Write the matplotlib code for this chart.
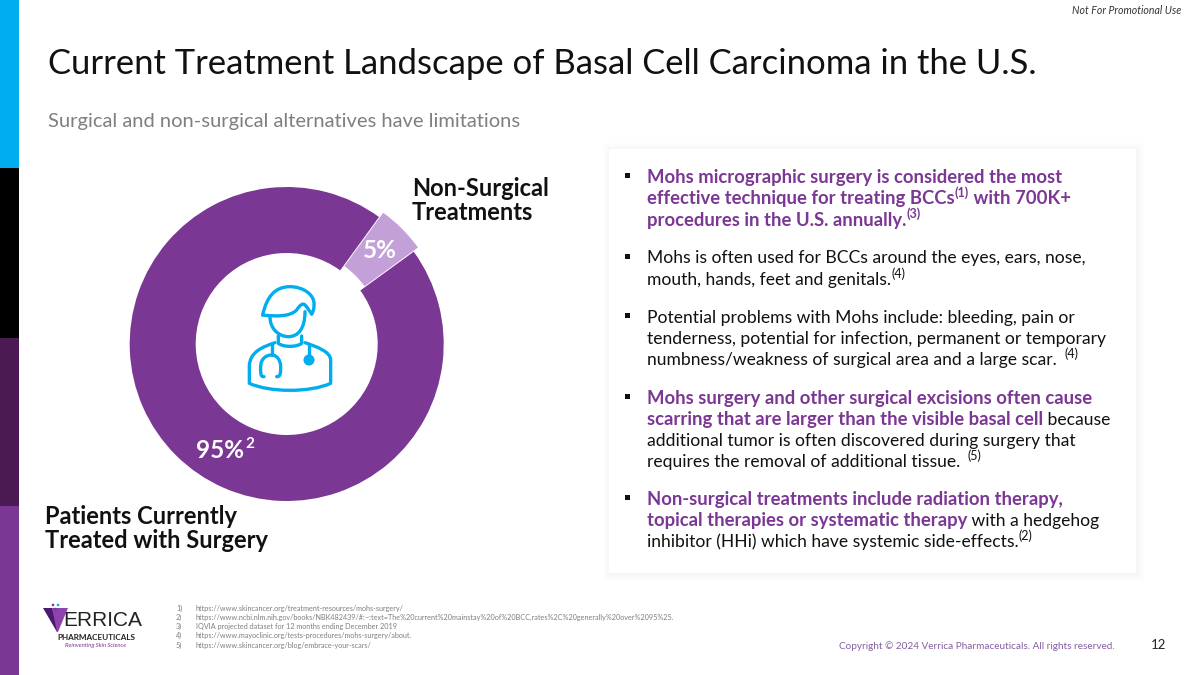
import matplotlib
matplotlib.use("Agg")
import matplotlib.pyplot as plt
from matplotlib.patches import Rectangle, Polygon, Circle, PathPatch
from matplotlib.path import Path

plt.rcParams['font.family'] = ['Lato', 'DejaVu Sans']

PURPLE = "#7B3794"
LILAC = "#C3A0D8"
CYAN = "#00AEEF"
INK = "#111111"
GREY = "#7F7F7F"

# donut values
shares = [5, 95]
share_colors = [LILAC, PURPLE]
share_explode = [6, 0]

title = "Current Treatment Landscape of Basal Cell Carcinoma in the U.S."
subtitle = "Surgical and non-surgical alternatives have limitations"

footnotes = [
    "https://www.skincancer.org/treatment-resources/mohs-surgery/",
    "https://www.ncbi.nlm.nih.gov/books/NBK482439/#:~:text=The%20current%20mainstay%20of%20BCC,rates%2C%20generally%20over%2095%25.",
    "IQVIA projected dataset for 12 months ending December 2019",
    "https://www.mayoclinic.org/tests-procedures/mohs-surgery/about.",
    "https://www.skincancer.org/blog/embrace-your-scars/",
]

# runs: (text, bold, superscript)
bullets = [
    (176, [[("Mohs micrographic surgery is considered the most", 1, 0)],
           [("effective technique for treating BCCs", 1, 0), ("(1)", 1, 1), (" with 700K+", 1, 0)],
           [("procedures in the U.S. annually.", 1, 0), ("(3)", 1, 1)]]),
    (257, [[("Mohs is often used for BCCs around the eyes, ears, nose,", 0, 0)],
           [("mouth, hands, feet and genitals.", 0, 0), ("(4)", 0, 1)]]),
    (316, [[("Potential problems with Mohs include: bleeding, pain or", 0, 0)],
           [("tenderness, potential for infection, permanent or temporary", 0, 0)],
           [("numbness/weakness of surgical area and a large scar. ", 0, 0), ("(4)", 0, 1)]]),
    (397, [[("Mohs surgery and other surgical excisions often cause", 1, 0)],
           [("scarring that are larger than the visible basal cell", 1, 0), (" because", 0, 0)],
           [("additional tumor is often discovered during surgery that", 0, 0)],
           [("requires the removal of additional tissue. ", 0, 0), ("(5)", 0, 1)]]),
    (498, [[("Non-surgical treatments include radiation therapy,", 1, 0)],
           [("topical therapies or systematic therapy", 1, 0), (" with a hedgehog", 0, 0)],
           [("inhibitor (HHi) which have systemic side-effects.", 0, 0), ("(2)", 0, 1)]]),
]

fig = plt.figure(figsize=(12, 6.75), dpi=100, facecolor="white")
ax = fig.add_axes([0, 0, 1, 1])
ax.set_xlim(0, 1200)
ax.set_ylim(675, 0)
ax.axis("off")

# side strip
for y0, y1, c in [(0, 168, CYAN), (168, 338, "#000000"), (338, 506, "#4B1A52"), (506, 675, PURPLE)]:
    ax.add_patch(Rectangle((0, y0), 19, y1 - y0, fc=c, ec="none"))

ax.text(1181, 11, "Not For Promotional Use", fontsize=7.6, style="italic", color="#333333", ha="right", va="center")
ax.text(48, 64, title, fontsize=24.9, color=INK, va="center")
ax.text(48, 122, subtitle, fontsize=14.5, color=GREY, va="center")

# card with a soft shadow
for pad, a in [(7, 0.006), (5, 0.008), (3, 0.01), (1, 0.012)]:
    ax.add_patch(Rectangle((609 - pad + 1, 149 - pad + 1), 527 + 2 * pad, 424 + 2 * pad, fc="black", ec="none", alpha=a))
ax.add_patch(Rectangle((609, 149), 527, 424, fc="white", ec="none"))

renderer = fig.canvas.get_renderer()

def draw_line(x, y, runs):
    for txt, bold, sup in runs:
        color = PURPLE if bold else "#111111"
        size = 9 if sup else (13.3 if bold else 12.65)
        yy = y - 5 if sup else y + 1.5
        t = ax.text(x, yy, txt, fontsize=size, fontweight="bold" if bold else "normal", color=color,
                    va="center", ha="left")
        # trailing spaces are not measured, so add them by hand
        w = t.get_window_extent(renderer).width
        spaces = len(txt) - len(txt.rstrip())
        x += w + spaces * 3

for top, lines in bullets:
    ax.add_patch(Rectangle((625, top - 3), 5, 5, fc="#111111", ec="none"))
    for i, runs in enumerate(lines):
        draw_line(647, top + i * 21.3, runs)

# donut, on its own axes so the scale stays equal
R = 175
cx, cy = 286.7, 344
pie_ax = fig.add_axes([(cx - R) / 1200, 1 - (cy + R) / 675, 2 * R / 1200, 2 * R / 675])
pie_ax.pie(shares, colors=share_colors, explode=share_explode, startangle=36, counterclock=True,
           radius=157, frame=False, center=(0, 0),
           wedgeprops=dict(width=66, edgecolor="none"))
pie_ax.set_xlim(-R, R)
pie_ax.set_ylim(-R, R)
pie_ax.axis("off")

ax.set_zorder(2)
ax.patch.set_alpha(0)

ax.text(380, 251, "5%", fontsize=17.5, fontweight="bold", color="white", ha="center", va="center")
ax.text(196, 451, "95%", fontsize=17.5, fontweight="bold", color="white", ha="left", va="center")
ax.text(245.5, 444, "2", fontsize=11, fontweight="bold", color="white", ha="left", va="center")

ax.text(412, 188.5, "Non-Surgical", fontsize=17, fontweight="bold", color=INK, va="center")
ax.text(412, 212.5, "Treatments", fontsize=17, fontweight="bold", color=INK, va="center")
ax.text(45, 516.5, "Patients Currently", fontsize=17, fontweight="bold", color=INK, va="center")
ax.text(45, 540.5, "Treated with Surgery", fontsize=17, fontweight="bold", color=INK, va="center")

# doctor icon, traced on the 3x crop
def icon_curve(start, *segs):
    verts = [start]
    codes = [Path.MOVETO]
    for seg in segs:
        verts.extend(seg)
        codes.extend([Path.LINETO] if len(seg) == 1 else [Path.CURVE4] * 3)
    verts = [(120 + x / 3, 170 + y / 3) for x, y in verts]
    ax.add_patch(PathPatch(Path(verts, codes), fc="none", ec=CYAN, lw=2.4, capstyle="round", joinstyle="round"))

icon_curve((428, 435), [(440, 380), (465, 350), (510, 350)], [(550, 350), (585, 375), (582, 405)],
           [(582, 420), (578, 428), (575, 432)])
icon_curve((428, 435), [(470, 440), (510, 440), (530, 420)], [(540, 405), (548, 398), (555, 405)],
           [(562, 412), (570, 425), (575, 432)])
icon_curve((450, 440), [(450, 480), (480, 500), (505, 500)], [(535, 500), (555, 475), (555, 425)])
icon_curve((475, 498), [(475, 520)], [(490, 532), (530, 532), (545, 520)], [(545, 498)])
icon_curve((465, 518), [(430, 530), (388, 545), (388, 590)], [(388, 640)], [(450, 668), (570, 668), (632, 640)],
           [(632, 570)], [(632, 545), (590, 530), (555, 518)])
icon_curve((455, 525), [(455, 555)])
icon_curve((432, 620), [(420, 620), (422, 610), (422, 590)], [(422, 565), (440, 555), (455, 555)],
           [(470, 555), (482, 570), (482, 590)], [(482, 610), (482, 620), (470, 620)])
icon_curve((567, 525), [(567, 555)])
ax.add_patch(Circle((120 + 567 / 3, 170 + 570 / 3), 5.5, fc=CYAN, ec="none"))

# footnotes
for i, note in enumerate(footnotes):
    y = 608 + i * 9.3
    ax.text(176, y, f"{i + 1})", fontsize=5.25, color=GREY, va="center")
    ax.text(196, y, note, fontsize=5.25, color=GREY, va="center")

# logo
ax.add_patch(Polygon([(43, 608), (52, 608), (58, 620), (57, 632)], fc="#4B1A6E", ec="none"))
ax.add_patch(Polygon([(52, 608), (68, 608), (58, 632), (57, 632)], fc="#8E44AD", ec="none"))
ax.text(63, 621, "ERRICA", fontsize=15, color="#222222", va="center", family="Liberation Sans")
ax.text(96, 637, "PHARMACEUTICALS", fontsize=5.9, color="#222222", ha="center", va="center", fontweight="bold")
ax.text(96, 645, "Reinventing Skin Science", fontsize=4.3, color=PURPLE, ha="center", va="center", style="italic")
for px, py, c in [(53, 605, PURPLE), (58, 605, CYAN), (55.5, 609, PURPLE)]:
    ax.add_patch(Circle((px, py), 1.3, fc=c, ec="none"))

ax.text(1115, 646, "Copyright © 2024 Verrica Pharmaceuticals. All rights reserved.", fontsize=7.2, color="#855FA0",
        ha="right", va="center")
ax.text(1159, 645, "12", fontsize=9.5, color="#222222", ha="center", va="center")

fig.savefig("out.png", dpi=100)
